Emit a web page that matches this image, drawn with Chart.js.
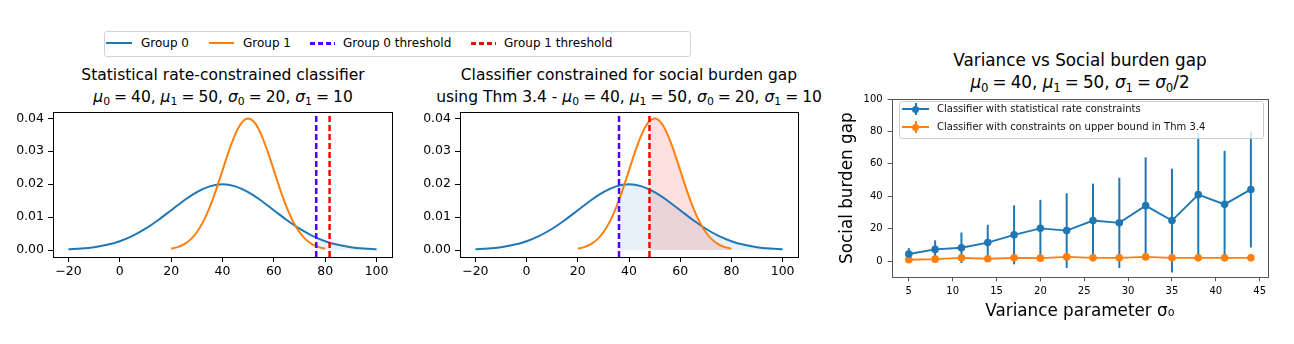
<!DOCTYPE html>
<html><head><meta charset="utf-8">
<script src="https://cdn.jsdelivr.net/npm/chart.js@4.4.0/dist/chart.umd.min.js"></script>
<style>
body{margin:0;background:#fff;width:1294px;height:344px;position:relative;overflow:hidden;font-family:"DejaVu Sans",sans-serif;color:#000}
canvas{position:absolute}
.ttl{position:absolute;text-align:center;white-space:nowrap;line-height:22px}
.ttl sub{font-size:70%;vertical-align:-0.3em;line-height:0}
.ttl .eq{margin:0 4px}
.lg{position:absolute;font-size:12px;line-height:14px;white-space:nowrap}
.ls{position:absolute;height:2px}
.box{position:absolute;border:1px solid #d3d3d3;border-radius:3px;box-sizing:border-box}
.rl{position:absolute;font-size:10px;line-height:12px;white-space:nowrap;color:#111}
</style>
</head><body>
<div class="box" style="left:104px;top:31px;width:587px;height:26px;background:#fff"></div>
<div class="ls" style="left:106px;top:42px;width:26px;background:#1f77b4"></div>
<div class="lg" style="left:141px;top:36px">Group 0</div>
<div class="ls" style="left:209px;top:42px;width:25px;background:#ff7f0e"></div>
<div class="lg" style="left:243px;top:36px">Group 1</div>
<div class="ls" style="left:310px;top:42px;width:25px;height:2.5px;background:repeating-linear-gradient(to right,#5000ff 0 5px,transparent 5px 8px)"></div>
<div class="lg" style="left:343px;top:36px">Group 0 threshold</div>
<div class="ls" style="left:471px;top:42px;width:25px;height:2.5px;background:repeating-linear-gradient(to right,#ff0000 0 5px,transparent 5px 8px)"></div>
<div class="lg" style="left:504px;top:36px">Group 1 threshold</div>

<div class="ttl" style="left:23px;width:400px;top:64px;font-size:15.5px">Statistical rate-constrained classifier<br><i>μ</i><sub>0</sub><span class="eq">=</span>40, <i>μ</i><sub>1</sub><span class="eq">=</span>50, <i>σ</i><sub>0</sub><span class="eq">=</span>20, <i>σ</i><sub>1</sub><span class="eq">=</span>10</div>
<div class="ttl" style="left:409px;width:440px;top:64px;font-size:15.5px">Classifier constrained for social burden gap<br>using Thm 3.4 - <i>μ</i><sub>0</sub><span class="eq">=</span>40, <i>μ</i><sub>1</sub><span class="eq">=</span>50, <i>σ</i><sub>0</sub><span class="eq">=</span>20, <i>σ</i><sub>1</sub><span class="eq">=</span>10</div>
<div class="ttl" style="left:880px;width:400px;top:49px;font-size:16.8px">Variance vs Social burden gap<br><i>μ</i><sub>0</sub><span class="eq">=</span>40, <i>μ</i><sub>1</sub><span class="eq">=</span>50, <i>σ</i><sub>1</sub><span class="eq">=</span><i>σ</i><sub>0</sub>/2</div>

<canvas id="c1" width="410" height="190" style="left:0;top:100px;width:410px;height:190px"></canvas>
<canvas id="c2" width="410" height="190" style="left:405px;top:100px;width:410px;height:190px"></canvas>
<canvas id="c3" width="464" height="256" style="left:830px;top:88px;width:464px;height:256px"></canvas>

<div class="box" style="left:899px;top:101px;width:365px;height:38px;background:rgba(255,255,255,0.8);border-color:#ccc"></div>
<div class="ls" style="left:902px;top:108px;width:27px;background:#1f77b4"></div>
<div class="ls" style="left:915px;top:103px;width:2px;height:12px;background:#1f77b4"></div>
<div class="ls" style="left:912px;top:105.5px;width:7px;height:7px;border-radius:50%;background:#1f77b4"></div>
<div class="rl" style="left:937px;top:103px">Classifier with statistical rate constraints</div>
<div class="ls" style="left:902px;top:126px;width:27px;background:#ff7f0e"></div>
<div class="ls" style="left:915px;top:121px;width:2px;height:12px;background:#ff7f0e"></div>
<div class="ls" style="left:912px;top:123.5px;width:7px;height:7px;border-radius:50%;background:#ff7f0e"></div>
<div class="rl" style="left:937px;top:121px">Classifier with constraints on upper bound in Thm 3.4</div>

<script>
// ---- data ----
const group0X = [-20,-15,-10,-5,0,5,10,15,20,25,30,35,40,45,50,55,60,65,70,75,80,85,90,95,100];
const group0Density = [0.00022,0.00046,0.00088,0.00159,0.00270,0.00431,0.00648,0.00913,0.01210,0.01506,0.01760,0.01933,0.01995,0.01933,0.01760,0.01506,0.01210,0.00913,0.00648,0.00431,0.00270,0.00159,0.00088,0.00046,0.00022];
const group1X = [20,22.5,25,27.5,30,32.5,35,37.5,40,42.5,45,47.5,50,52.5,55,57.5,60,62.5,65,67.5,70,72.5,75,77.5,80];
const group1Density = [0.00044,0.00091,0.00175,0.00317,0.00540,0.00863,0.01295,0.01827,0.02420,0.03011,0.03521,0.03867,0.03989,0.03867,0.03521,0.03011,0.02420,0.01827,0.01295,0.00863,0.00540,0.00317,0.00175,0.00091,0.00044];
const thresholdsStatRate = [76.5, 81.7];   // group 0, group 1
const thresholdsThm34 = [36.1, 48.0];      // group 0, group 1
const distXTicks = [-20,0,20,40,60,80,100];
const distYTicks = [0,0.01,0.02,0.03,0.04];
const distXRange = [-26,106];
const distYRange = [-0.0021,0.0419];

const sigma0 = [5,8,11,14,17,20,23,26,29,32,35,38,41,44];
const gapStatRate = [4.4,7.2,8.2,11.4,16.2,20.2,18.8,25.0,23.6,34.2,25.0,41.0,35.0,44.2];
const gapStatRateErr = [3.6,5.6,9.4,11.0,18.2,17.6,23.0,22.8,27.8,29.8,32.0,38.0,33.0,35.8];
const gapThm34 = [0.8,1.2,2.0,1.4,2.0,1.8,2.6,2.0,2.0,2.6,2.0,2.0,2.0,2.0];
const gapXTicks = [5,10,15,20,25,30,35,40,45];
const gapYTicks = [0,20,40,60,80,100];
const gapXRange = [3.05,45.95];
const gapYRange = [-10,100];

const C0 = '#1f77b4', C1 = '#ff7f0e', THR0 = '#5000ff', THR1 = '#ff0000';
const FONT = '"DejaVu Sans", sans-serif';

const pts = (xs, ys) => xs.map((x,i)=>({x, y:ys[i]}));

// frame (spines) around plot area
const framePlugin = {
  id:'frame',
  afterDatasetsDraw(chart, args, opts){
    const {ctx, chartArea:a} = chart;
    ctx.save(); ctx.strokeStyle = opts.color || '#000'; ctx.lineWidth = 1;
    ctx.strokeRect(Math.round(a.left)+0.5, Math.round(a.top)+0.5, Math.round(a.right-a.left), Math.round(a.bottom-a.top));
    ctx.restore();
  }
};
// clip fills to the right of a threshold value (must run before the filler plugin)
const clipPlugin = {
  id:'clipFrom',
  beforeDatasetDraw(chart, args){
    const ds = chart.data.datasets[args.index];
    if (ds.clipFrom === undefined) return;
    const {ctx, chartArea:a} = chart;
    const x0 = chart.scales.x.getPixelForValue(ds.clipFrom);
    ctx.save(); ctx.beginPath(); ctx.rect(x0, a.top, a.right - x0, a.bottom - a.top); ctx.clip();
  },
  afterDatasetDraw(chart, args){
    const ds = chart.data.datasets[args.index];
    if (ds.clipFrom === undefined) return;
    chart.ctx.restore();
  }
};
(function(){
  const filler = Chart.registry.plugins.get('filler');
  if (filler) { Chart.unregister(filler); Chart.register(clipPlugin); Chart.register(filler); }
  else { Chart.register(clipPlugin); }
})();
// vertical error bars
const errPlugin = {
  id:'errbars',
  beforeDatasetsDraw(chart){
    const {ctx} = chart;
    chart.data.datasets.forEach((ds)=>{
      if (!ds.errors) return;
      ctx.save(); ctx.strokeStyle = ds.borderColor; ctx.lineWidth = 2;
      ds.data.forEach((p,i)=>{
        const x = chart.scales.x.getPixelForValue(p.x);
        const y1 = chart.scales.y.getPixelForValue(p.y - ds.errors[i]);
        const y2 = chart.scales.y.getPixelForValue(p.y + ds.errors[i]);
        ctx.beginPath(); ctx.moveTo(x, y1); ctx.lineTo(x, y2); ctx.stroke();
      });
      ctx.restore();
    });
  }
};

function axisCommon(fontSize, tickLen, pad, color){
  return {
    grid:{drawOnChartArea:false, drawTicks:true, tickLength:tickLen, color:color, lineWidth:1},
    border:{display:false},
    ticks:{font:{family:FONT, size:fontSize}, color:'#000', padding:pad, maxRotation:0, autoSkip:false}
  };
}

function distChart(id, thr, yAxisWidth, padRight){
  const xa = axisCommon(12.5, 5, 2, '#000');
  xa.type = 'linear'; xa.min = distXRange[0]; xa.max = distXRange[1];
  xa.afterBuildTicks = s => { s.ticks = distXTicks.map(v=>({value:v})); };
  xa.ticks.callback = v => v < 0 ? '\u2212' + Math.abs(v) : String(v);
  xa.afterFit = s => { s.height = 33; };
  const ya = axisCommon(12.5, 5, 4, '#000');
  ya.type = 'linear'; ya.min = distYRange[0]; ya.max = distYRange[1];
  ya.afterBuildTicks = s => { s.ticks = distYTicks.map(v=>({value:v})); };
  ya.ticks.callback = v => v.toFixed(2);
  ya.afterFit = s => { s.width = yAxisWidth; };
  new Chart(document.getElementById(id), {
    type:'line',
    data:{datasets:[
      {label:'Group 0 threshold', data:[{x:thr[0],y:distYRange[0]},{x:thr[0],y:distYRange[1]}], borderColor:THR0, borderWidth:2.5, borderDash:[6,3], pointRadius:0},
      {label:'Group 1 threshold', data:[{x:thr[1],y:distYRange[0]},{x:thr[1],y:distYRange[1]}], borderColor:THR1, borderWidth:2.5, borderDash:[6,3], pointRadius:0},
      {label:'Group 1', data:pts(group1X, group1Density), borderColor:C1, borderWidth:2, pointRadius:0, cubicInterpolationMode:'monotone'},
      {label:'Group 0', data:pts(group0X, group0Density), borderColor:C0, borderWidth:2, pointRadius:0, cubicInterpolationMode:'monotone'},
      {label:'fill1', data:pts(group1X, group1Density), borderWidth:0, borderColor:'rgba(0,0,0,0)', pointRadius:0, fill:'origin', backgroundColor:'rgba(255,0,0,0.12)', cubicInterpolationMode:'monotone', clipFrom:thr[1]},
      {label:'fill0', data:pts(group0X, group0Density), borderWidth:0, borderColor:'rgba(0,0,0,0)', pointRadius:0, fill:'origin', backgroundColor:'rgba(31,119,180,0.1)', cubicInterpolationMode:'monotone', clipFrom:thr[0]}
    ]},
    options:{
      responsive:false, animation:false,
      layout:{padding:{top:12, right:padRight, left:0, bottom:0}},
      plugins:{legend:{display:false}, tooltip:{enabled:false}, frame:{color:'#000'}},
      scales:{x:xa, y:ya}
    },
    plugins:[framePlugin]
  });
}

distChart('c1', thresholdsStatRate, 53, 18);
distChart('c2', thresholdsThm34, 55, 17);

// right chart
(function(){
  const gray = '#555';
  const xa = axisCommon(10, 4, 4, gray);
  xa.type = 'linear'; xa.min = gapXRange[0]; xa.max = gapXRange[1];
  xa.afterBuildTicks = s => { s.ticks = gapXTicks.map(v=>({value:v})); };
  xa.afterFit = s => { s.height = 66.7; };
  xa.title = {display:true, text:'Variance parameter \u03c3\u2080', font:{family:FONT, size:16.8}, color:'#000', padding:{top:0, bottom:22}};
  const ya = axisCommon(10, 4, 5, gray);
  ya.type = 'linear'; ya.min = gapYRange[0]; ya.max = gapYRange[1];
  ya.afterBuildTicks = s => { s.ticks = gapYTicks.map(v=>({value:v})); };
  ya.afterFit = s => { s.width = 61.7; };
  ya.title = {display:true, text:'Social burden gap', font:{family:FONT, size:16.8}, color:'#000', padding:{top:8, bottom:0}};
  new Chart(document.getElementById('c3'), {
    type:'line',
    data:{datasets:[
      {label:'Classifier with statistical rate constraints', data:pts(sigma0, gapStatRate), errors:gapStatRateErr, borderColor:C0, backgroundColor:C0, borderWidth:1.9, pointRadius:3.8, pointBorderWidth:0, pointBackgroundColor:C0},
      {label:'Classifier with constraints on upper bound in Thm 3.4', data:pts(sigma0, gapThm34), borderColor:C1, backgroundColor:C1, borderWidth:1.9, pointRadius:3.8, pointBorderWidth:0, pointBackgroundColor:C1}
    ]},
    options:{
      responsive:false, animation:false,
      layout:{padding:{top:5, right:26, left:0, bottom:0}},
      plugins:{legend:{display:false}, tooltip:{enabled:false}, frame:{color:gray}},
      scales:{x:xa, y:ya}
    },
    plugins:[framePlugin, errPlugin]
  });
})();
</script>
</body></html>
